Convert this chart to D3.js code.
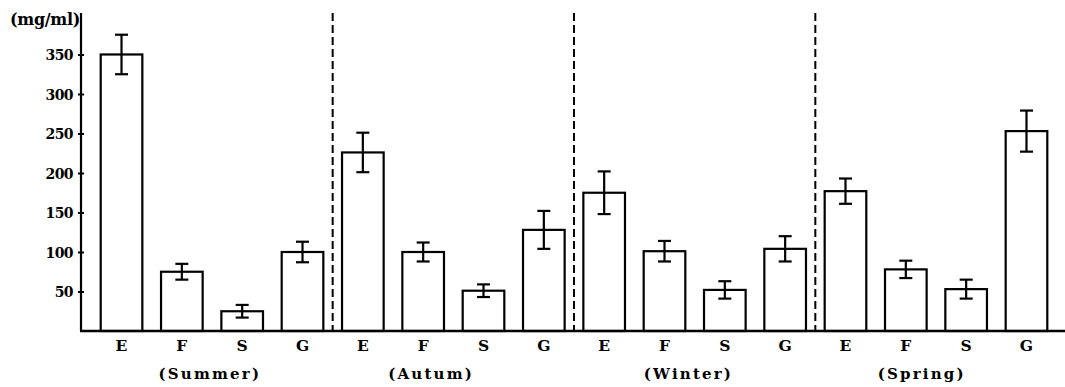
<!DOCTYPE html>
<html><head><meta charset="utf-8">
<script src="https://cdn.jsdelivr.net/npm/d3@7"></script>
<style>
html,body{margin:0;padding:0;background:#fff;}
svg text{font-family:"DejaVu Serif","Liberation Serif",serif !important;font-weight:bold;fill:#000;}
</style></head>
<body><svg id="chart" width="1065" height="387"></svg>
<script>
const seasons = ["Summer", "Autum", "Winter", "Spring"];
const seasonLabels = ["(Summer)", "(Autum)", "(Winter)", "(Spring)"];
const groups = ["E", "F", "S", "G"];
const summerMean = [350, 75, 25, 100];
const summerErr  = [25, 10, 8, 13];
const autumMean  = [226, 100, 51, 128];
const autumErr   = [25, 12, 8, 24];
const winterMean = [175, 101, 52, 104];
const winterErr  = [27, 13, 11, 16];
const springMean = [177, 78, 53, 253];
const springErr  = [16, 11, 12, 26];
const yTicks = [50, 100, 150, 200, 250, 300, 350];
const yUnit = "(mg/ml)";

const means = [summerMean, autumMean, winterMean, springMean];
const errs = [summerErr, autumErr, winterErr, springErr];
const rows = [];
seasons.forEach((s, si) => groups.forEach((g, gi) => rows.push({
  key: s + "-" + g, season: s, si, group: g, gi, mean: means[si][gi], err: errs[si][gi]
})));

const svg = d3.select("#chart");
const x = d3.scaleBand().domain(rows.map(d => d.key)).range([82, 1066]).padding(0.31);
const y = d3.scaleLinear().domain([0, 402.5]).range([331, 13]);
const bw = x.bandwidth();

// bars
svg.append("g").selectAll("rect").data(rows).join("rect")
  .attr("x", d => x(d.key)).attr("y", d => y(d.mean))
  .attr("width", bw).attr("height", d => y(0) - y(d.mean))
  .attr("fill", "#fff").attr("stroke", "#000").attr("stroke-width", 2.2);

// error bars
const eg = svg.append("g").attr("stroke", "#000").attr("stroke-width", 2.2);
rows.forEach(d => {
  const cx = x(d.key) + bw / 2;
  eg.append("line").attr("x1", cx).attr("x2", cx).attr("y1", y(d.mean + d.err)).attr("y2", y(d.mean - d.err));
  [d.mean + d.err, d.mean - d.err].forEach(v =>
    eg.append("line").attr("x1", cx - 6.5).attr("x2", cx + 6.5).attr("y1", y(v)).attr("y2", y(v)));
});

// dashed separators
for (let si = 0; si < seasons.length - 1; si++) {
  const left = x(seasons[si] + "-G") + bw;
  const right = x(seasons[si + 1] + "-E");
  const mx = (left + right) / 2;
  svg.append("line").attr("x1", mx).attr("x2", mx).attr("y1", y(402.5)).attr("y2", y(0))
    .attr("stroke", "#000").attr("stroke-width", 2).attr("stroke-dasharray", "8,4");
}

// y axis
const yAxis = d3.axisLeft(y).tickValues(yTicks).tickSize(3).tickFormat(d3.format("d"));
const ya = svg.append("g").attr("transform", "translate(81,0)").call(yAxis);
ya.attr("font-family", null).attr("font-size", null);
ya.select(".domain").remove();
ya.selectAll(".tick line").attr("x2", 3).attr("x1", -3).attr("stroke", "#000").attr("stroke-width", 2);
ya.selectAll(".tick text").attr("x", -8).attr("dy", "0.36em")
  .style("font-size", "14px").style("letter-spacing", "-0.6px").attr("fill", "#000");
svg.append("line").attr("x1", 81).attr("x2", 81).attr("y1", y(402.5)).attr("y2", y(0))
  .attr("stroke", "#000").attr("stroke-width", 2.2);

// x baseline
svg.append("line").attr("x1", 80).attr("x2", 1065).attr("y1", y(0)).attr("y2", y(0))
  .attr("stroke", "#000").attr("stroke-width", 2.5);

// x category labels
const xAxis = d3.axisBottom(x).tickSize(0).tickFormat(k => k.split("-")[1]);
const xa = svg.append("g").attr("transform", `translate(0,${y(0)})`).call(xAxis);
xa.attr("font-family", null).attr("font-size", null);
xa.select(".domain").remove();
xa.selectAll(".tick text").attr("y", 9).attr("dy", "0.71em")
  .style("font-size", "15.5px").attr("fill", "#000");

// season labels
const seasonShift = [28, 8, 24, 16];
svg.append("g").selectAll("text").data(seasons).join("text")
  .attr("x", (s, i) => x(s + "-F") + bw / 2 + seasonShift[i])
  .attr("y", 379).attr("text-anchor", "middle")
  .style("font-size", "15px").style("letter-spacing", "2.2px")
  .text((s, i) => seasonLabels[i]);

// unit label
svg.append("text").attr("x", 80).attr("y", 25).attr("text-anchor", "end")
  .style("font-size", "16px").style("letter-spacing", "-0.3px").text(yUnit);
</script></body></html>
